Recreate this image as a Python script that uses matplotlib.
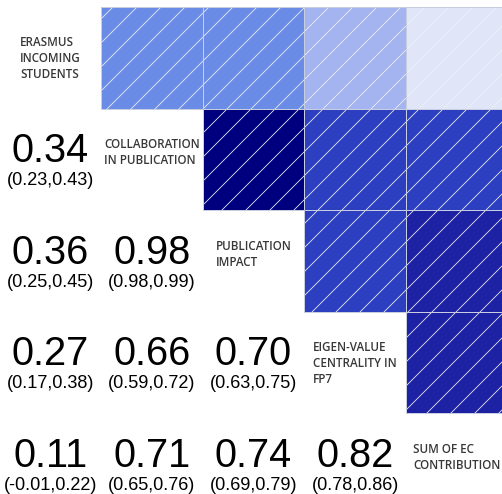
import numpy as np
import matplotlib
matplotlib.use("Agg")
import matplotlib.pyplot as plt
from matplotlib.colors import ListedColormap, BoundaryNorm
from matplotlib.patches import Rectangle

# variables on the diagonal
labels = [
    "ERASMUS\nINCOMING\nSTUDENTS",
    "COLLABORATION\nIN PUBLICATION",
    "PUBLICATION\nIMPACT",
    "EIGEN-VALUE\nCENTRALITY IN\nFP7",
    "SUM OF EC\nCONTRIBUTION",
]

# lower triangle: correlation and confidence interval, row by row
corr = [
    [],
    [0.34],
    [0.36, 0.98],
    [0.27, 0.66, 0.70],
    [0.11, 0.71, 0.74, 0.82],
]
ci_low = [
    [],
    [0.23],
    [0.25, 0.98],
    [0.17, 0.59, 0.63],
    [-0.01, 0.65, 0.69, 0.78],
]
ci_high = [
    [],
    [0.43],
    [0.45, 0.99],
    [0.38, 0.72, 0.75],
    [0.22, 0.76, 0.79, 0.86],
]

# discrete colour scale for the upper triangle
bounds = [-1.0, 0.2, 0.3, 0.5, 0.72, 0.9, 1.0]
colors = ["#e0e6f8", "#a4b4f0", "#6a8ce6", "#2b3fc0", "#1c22a3", "#00007f"]
cmap = ListedColormap(colors)
norm = BoundaryNorm(bounds, cmap.N)

W, H, DPI = 502, 494, 72
cell = 101.6
x0_px, y0_px = -0.5, 7.0
k = 110 / DPI  # font sizes below were tuned at 110 dpi

plt.rcParams["hatch.linewidth"] = 0.8

fig = plt.figure(figsize=(W / DPI, H / DPI), dpi=DPI)
ax = fig.add_axes([0, 0, 1, 1])
ax.set_xlim(x0_px / -cell, (W - x0_px) / cell)
ax.set_ylim((H - y0_px) / cell, -y0_px / cell)
ax.axis("off")

n = len(labels)
for i in range(n):
    for j in range(n):
        if j > i:
            r = corr[j][i]
            ax.add_patch(Rectangle((j, i), 1, 1, facecolor=cmap(norm(r)),
                                   edgecolor="#eef0fa", hatch="/", lw=0))
            ax.add_patch(Rectangle((j, i), 1, 1, fill=False,
                                   edgecolor="#c9cde0", lw=1.0))
        elif j == i:
            ax.text(j + 0.5, i + 0.29, labels[i], ha="center", va="top",
                    multialignment="left", fontsize=7.6 * k, color="#383838",
                    family="Open Sans", fontweight="semibold", linespacing=1.3)
        else:
            ax.text(j + 0.5, i + 0.42, f"{corr[i][j]:.2f}", ha="center",
                    va="center", fontsize=26 * k, family="Liberation Sans",
                    color="black")
            ax.text(j + 0.5, i + 0.71, f"({ci_low[i][j]:.2f},{ci_high[i][j]:.2f})",
                    ha="center", va="center", fontsize=11.9 * k,
                    family="Liberation Sans", color="black")

fig.savefig("out.png", dpi=DPI)
